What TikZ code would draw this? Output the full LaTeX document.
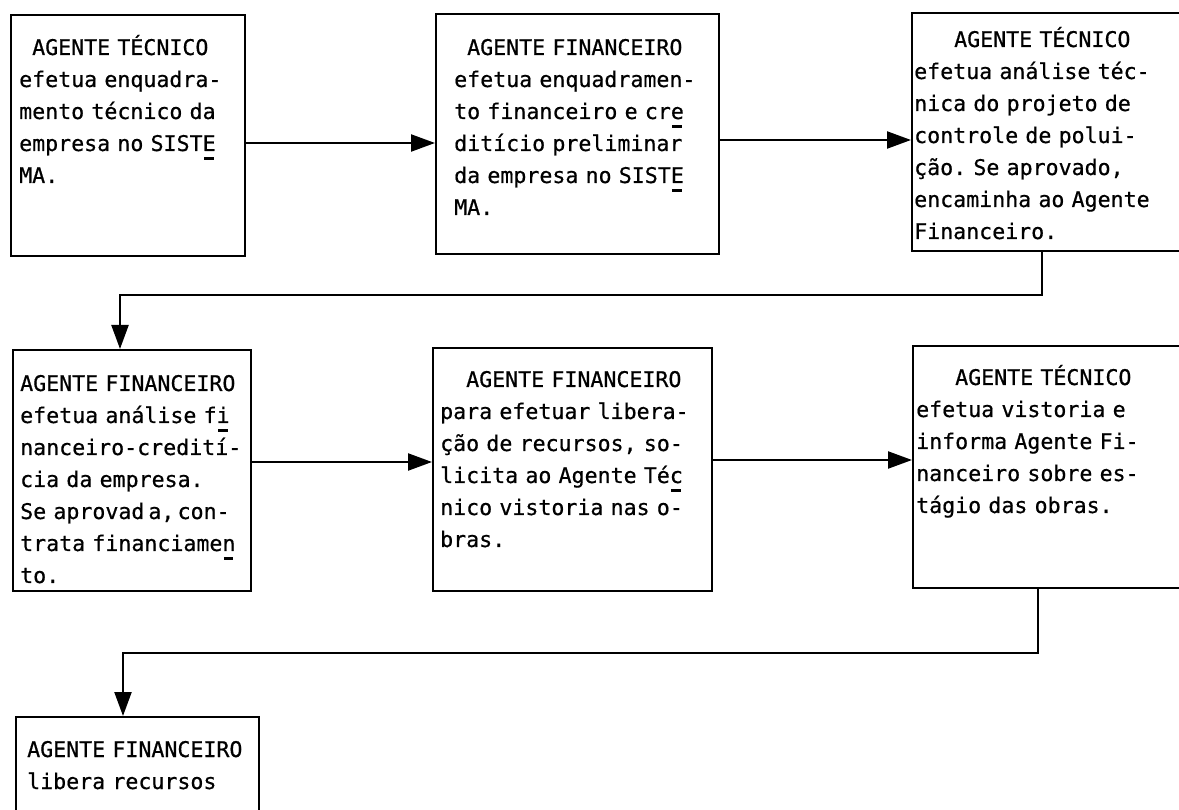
\documentclass[tikz,border=0pt]{standalone}
\usepackage{fontspec}
\newfontfamily\tw[FakeBold=0.6]{DejaVu Sans Mono}
\usetikzlibrary{arrows.meta}
% typewriter hyphenation bar struck under a character
\newcommand\hybar[1]{\rlap{\hspace{1.5pt}\raisebox{-9pt}{\rule{9.5pt}{2.6pt}}}#1}

\begin{document}
\begin{tikzpicture}[x=1pt,y=-1pt,
  stage/.style={draw, line width=2.2pt, inner sep=0pt, anchor=north west},
  txt/.style={anchor=base west, inner sep=0pt, text width=300pt, align=left,
              font={\tw\frenchspacing\fontsize{21.6pt}{32pt}\selectfont}},
  flow/.style={line width=2.2pt, -{Triangle[length=24pt,width=17pt]}}
]
\useasboundingbox (0,0) rectangle (1179,810);
\clip (0,0) rectangle (1179,810);

% boxes
\node[stage, minimum width=234pt, minimum height=241pt] (b1) at (10,14) {};
\node[stage, minimum width=283pt, minimum height=240pt] (b2) at (435,13) {};
\node[stage, minimum width=300pt, minimum height=238pt] (b3) at (911,12) {};
\node[stage, minimum width=238pt, minimum height=241pt] (b4) at (12,349) {};
\node[stage, minimum width=279pt, minimum height=243pt] (b5) at (432,347) {};
\node[stage, minimum width=300pt, minimum height=242pt] (b6) at (912,345) {};
\node[stage, minimum width=243pt, minimum height=150pt] (b7) at (15,716) {};

% texts
\node[txt] (t1) at (19,55) {\hspace*{13pt}AGENTE TÉCNICO\\efetua enquadra-\\mento técnico da\\empresa no SIST\hybar{E}\\MA.};
\node[txt] (t2) at (454,55) {\hspace*{13pt}AGENTE FINANCEIRO\\efetua enquadramen-\\to financeiro e cr\hybar{e}\\ditício preliminar\\da empresa no SIST\hybar{E}\\MA.};
\node[txt] (t3) at (914,47) {\hspace*{40pt}AGENTE TÉCNICO\\efetua análise téc-\\nica do projeto de\\controle de polui-\\ção. Se aprovado,\\encaminha ao Agente\\Financeiro.};
\node[txt] (t4) at (20,391) {AGENTE FINANCEIRO\\efetua análise f\hybar{i}\\nanceiro-credití-\\cia da empresa.\\Se aprovad\hspace{4pt}a,\hspace{-4pt} con-\\trata financiame\hybar{n}\\to.};
\node[txt] (t5) at (440,387) {\hspace*{26pt}AGENTE FINANCEIRO\\para efetuar libera-\\ção de recursos, so-\\licita ao Agente Té\hybar{c}\\nico vistoria nas o-\\bras.};
\node[txt] (t6) at (916,385) {\hspace*{39pt}AGENTE TÉCNICO\\efetua vistoria e\\informa Agente Fi-\\nanceiro sobre es-\\tágio das obras.};
\node[txt] (t7) at (27,757) {AGENTE FINANCEIRO\\libera recursos};

% horizontal connectors
\draw[flow] (b1.east |- 0,143) -- (b2.west |- 0,143);
\draw[flow] (b2.east |- 0,140) -- (b3.west |- 0,140);
\draw[flow] (b4.east |- 0,462) -- (b5.west |- 0,462);
\draw[flow] (b5.east |- 0,460) -- (b6.west |- 0,460);

% return connectors to the next row
\coordinate (r1a) at (1042,295);
\coordinate (r1b) at (120,295);
\draw[flow] (b3.south -| r1a) -- (r1a) -- (r1b) -- (b4.north -| r1b);
\coordinate (r2a) at (1038,653);
\coordinate (r2b) at (123,653);
\draw[flow] (b6.south -| r2a) -- (r2a) -- (r2b) -- (b7.north -| r2b);
\end{tikzpicture}
\end{document}
